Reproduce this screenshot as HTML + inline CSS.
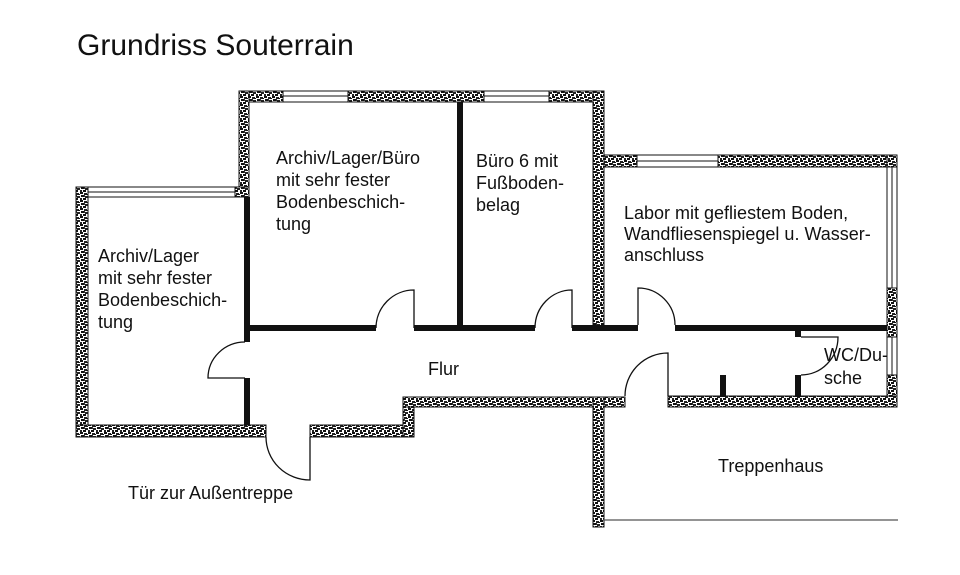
<!DOCTYPE html>
<html><head><meta charset="utf-8"><style>
html,body{margin:0;padding:0;background:#fff;}
svg{display:block;}
text{font-family:"Liberation Sans",Arial,sans-serif;fill:#111;}
</style></head><body>
<svg width="960" height="575" viewBox="0 0 960 575" xmlns="http://www.w3.org/2000/svg">
<defs>
<pattern id="h" width="8" height="8" patternUnits="userSpaceOnUse">
<rect width="8" height="8" fill="#fff"/>
<rect x="0" y="0" width="3" height="2" fill="#111"/>
<rect x="4" y="1" width="3" height="2" fill="#222"/>
<rect x="1" y="3" width="3" height="2" fill="#111"/>
<rect x="5" y="4" width="3" height="2" fill="#222"/>
<rect x="0" y="6" width="2" height="2" fill="#222"/>
<rect x="3" y="6" width="3" height="2" fill="#111"/>
<rect x="6" y="2" width="2" height="1" fill="#111"/>
<rect x="4" y="3" width="1" height="2" fill="#333"/>
</pattern>
</defs>
<text x="77" y="55" font-size="30">Grundriss Souterrain</text>

<g fill="url(#h)" stroke="#111" stroke-width="1">
<rect x="239" y="91" width="365" height="11"/>
<rect x="239" y="91" width="10" height="105"/>
<rect x="593" y="91" width="11" height="239"/>
<rect x="76" y="187" width="173" height="10"/>
<rect x="76" y="187" width="12" height="250"/>
<rect x="76" y="425" width="190" height="12"/>
<rect x="310" y="425" width="104" height="12"/>
<rect x="403" y="397" width="11" height="40"/>
<rect x="403" y="397" width="222" height="10"/>
<rect x="604" y="155" width="293" height="12"/>
<rect x="887" y="155" width="10" height="252"/>
<rect x="668" y="396" width="229" height="11"/>
<rect x="593" y="397" width="11" height="130"/>
</g>
<g fill="#fff" stroke="#111" stroke-width="1">
<rect x="283" y="91" width="65" height="11"/>
<rect x="484" y="91" width="65" height="11"/>
<rect x="88" y="187" width="147" height="10"/>
<rect x="637" y="155" width="81" height="12"/>
<rect x="887" y="167" width="10" height="121"/>
<rect x="887" y="337" width="10" height="38"/>
</g>
<g stroke="#111" stroke-width="1">
<line x1="283" y1="96" x2="348" y2="96"/>
<line x1="484" y1="96" x2="549" y2="96"/>
<line x1="88" y1="192" x2="235" y2="192"/>
<line x1="637" y1="161" x2="718" y2="161"/>
<line x1="892" y1="167" x2="892" y2="288"/>
<line x1="892" y1="337" x2="892" y2="375"/>
</g>
<g fill="#111">
<rect x="244" y="197" width="6" height="145"/>
<rect x="244" y="378" width="6" height="47"/>
<rect x="250" y="325" width="126" height="6"/>
<rect x="414" y="325" width="121" height="6"/>
<rect x="457" y="102" width="6" height="223"/>
<rect x="572" y="325" width="66" height="6"/>
<rect x="675" y="325" width="212" height="6"/>
<rect x="795" y="331" width="6" height="6"/>
<rect x="795" y="375" width="6" height="22"/>
<rect x="720" y="375" width="6" height="22"/>
</g>
<g fill="none" stroke="#111" stroke-width="1.3">
<path d="M245 378 L208 378 A37 36 0 0 1 245 342"/>
<path d="M414 328 L414 290 A38 38 0 0 0 376 328"/>
<path d="M572 328 L572 290 A37 38 0 0 0 535 328"/>
<path d="M638 325 L638 288 A37 37 0 0 1 675 325"/>
<path d="M801 337 L838 337 A37 38 0 0 1 801 375"/>
<path d="M668 396 L668 353 A43 43 0 0 0 625 396"/>
<path d="M310 437 L310 480 A44 43 0 0 1 266 437"/>
<line x1="603" y1="520" x2="898" y2="520" stroke="#555"/>
</g>
<g font-size="18">
<text x="276" y="164">Archiv/Lager/Büro</text>
<text x="276" y="186">mit sehr fester</text>
<text x="276" y="208">Bodenbeschich-</text>
<text x="276" y="230">tung</text>
<text x="476" y="167">Büro 6 mit</text>
<text x="476" y="189">Fußboden-</text>
<text x="476" y="211">belag</text>
<text x="98" y="262">Archiv/Lager</text>
<text x="98" y="284">mit sehr fester</text>
<text x="98" y="306">Bodenbeschich-</text>
<text x="98" y="328">tung</text>
<text x="624" y="219">Labor mit gefliestem Boden,</text>
<text x="624" y="240">Wandfliesenspiegel u. Wasser-</text>
<text x="624" y="261">anschluss</text>
<text x="428" y="375">Flur</text>
<text x="824" y="361">WC/Du-</text>
<text x="824" y="384">sche</text>
<text x="718" y="472">Treppenhaus</text>
<text x="128" y="499">Tür zur Außentreppe</text>
</g>
</svg>
</body></html>
